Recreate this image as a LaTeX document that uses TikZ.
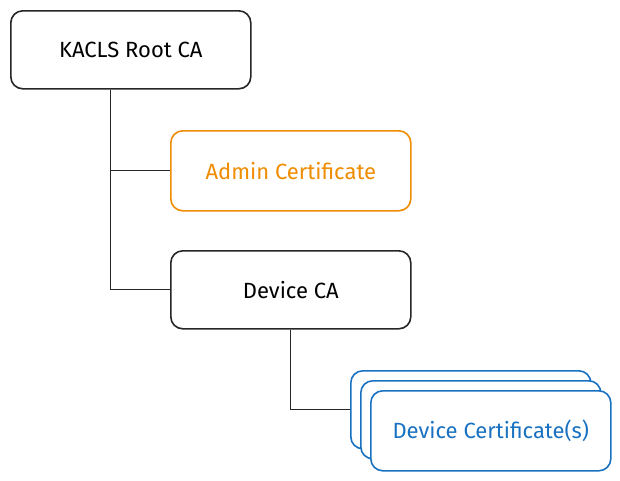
\documentclass[tikz,border=0pt]{standalone}
\usepackage{fontspec}
\setmainfont{Fira Sans}
\usetikzlibrary{positioning}
\definecolor{certorange}{HTML}{F08C00}
\definecolor{certblue}{HTML}{1971C2}

\begin{document}
\begin{tikzpicture}[x=1pt, y=-1pt,
font=\fontsize{22}{26}\selectfont, box/.style={
    draw=black!85, line width=1.6pt, rounded corners=12pt,
    minimum width=240pt, minimum height=78pt, fill=white, anchor=north west
},
link/.style={draw=black!85, line width=1pt},
]

\useasboundingbox (0,0) rectangle (620,480);

\node[box] (root) at (10,10) {KACLS Root CA};
\node[box, draw=certorange, text=certorange, minimum height=80pt] (admin) at (170,130) {Admin Certificate};
\node[box] (deviceca) at (170,250) {Device CA};

% stacked device certificates
\node[box, draw=certblue] (devcert3) at (350,370) {};
\node[box, draw=certblue] (devcert2) at (360,380) {};
\node[box, draw=certblue, text=certblue, minimum height=80pt] (devcert) at (370,390) {Device Certificate(s)};

\coordinate (trunk) at ([xshift=-20pt]root.south);
\draw[link] (trunk) |- (deviceca.west);
\draw[link] (trunk |- admin.west) -- (admin.west);
\draw[link] (deviceca.south) |- (devcert3.west);

\end{tikzpicture}
\end{document}
